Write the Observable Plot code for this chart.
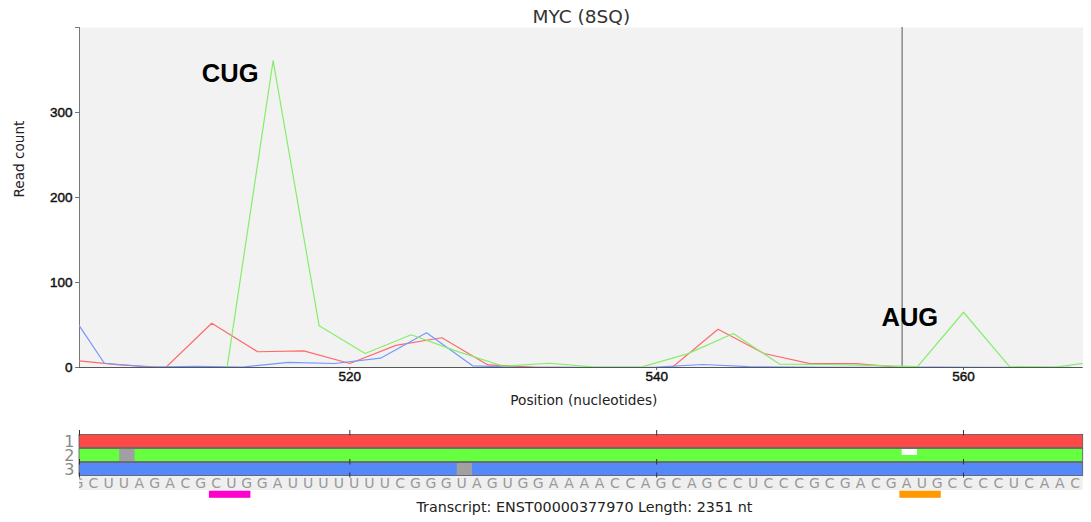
<!DOCTYPE html>
<html><head><meta charset="utf-8">
<script src="https://cdn.jsdelivr.net/npm/d3@7"></script>
<script src="https://cdn.jsdelivr.net/npm/@observablehq/plot@0.6"></script>
<style>
body{margin:0;background:#fff;}
#chart svg{display:block;}
#chart g[aria-label$="tick label"] text{stroke:#111;stroke-width:0.45px;}
</style></head><body><div id="chart"></div>
<script>
// ---- text ----
const title = "MYC (8SQ)";
const xLabel = "Position (nucleotides)";
const yLabel = "Read count";
const caption = "Transcript: ENST00000377970 Length: 2351 nt";

// ---- axes ----
const xWindow = [502.38, 567.8];
const xTicks = [520, 540, 560];
const yTicks = [0, 100, 200, 300, 400];
const yMax = 400;

// ---- read counts per frame ----
const frame1Pos   = [502, 505, 508, 511, 514, 517, 520, 523, 526, 529, 532, 535, 538, 541, 544, 547, 550, 553, 556, 559, 562, 565, 568];
const frame1Reads = [8.5, 3, 0, 52, 18.5, 19.5, 4.7, 26, 35, 3, 0.5, 0, 0, 0, 45, 16.5, 4.5, 4.5, 0, 0, 0, 0, 0];
const frame2Pos   = [503, 506, 509, 512, 515, 518, 521, 524, 527, 530, 533, 536, 539, 542, 545, 548, 551, 554, 557, 560, 563, 566, 569];
const frame2Reads = [0, 0, 0, 0, 361, 49, 16.5, 38.5, 19, 1.5, 5, 0.5, 0.5, 16, 40, 4, 3.5, 2.5, 1, 65, 1, 0.5, 8];
const frame3Pos   = [501, 504, 507, 510, 513, 516, 519, 522, 525, 528, 531, 534, 537, 540, 543, 546, 549, 552, 555, 558, 561, 564, 567];
const frame3Reads = [86, 5, 0.5, 1.5, 0.5, 6, 4.7, 11, 41, 2, 0.3, 0.3, 0.3, 0.5, 3.5, 1, 0.5, 0.3, 0.3, 0.5, 0.3, 0.3, 0.3];
const lineColors = ["#ff6a6a", "#84ee6c", "#7398ff"];

// ---- annotations ----
const augPos = 556;
const codonLabels = ["CUG", "AUG"];
const codonLabelX = [512.2, 556.5];
const codonLabelY = [346, 58];

// ---- track ----
const frames = ["1", "2", "3"];
const frameColors = ["#ff4848", "#66ff40", "#5588f8"];
const stopFrames = ["2", "3"];
const stopPos = [505, 527];
const startFrames = ["2"];
const startPos = [556];
const orfStarts = [511, 556];
const orfColors = ["#ff00cc", "#ff9900"];
const seqStart = 502;
const sequence = "GCUUAGACGCUGGAUUUUUUUCGGGUAGUGGAAAACCAGCAGCCUCCCGCGACGAUGCCCCUCAAC";

// ---- build tables ----
const mk = (pos, vals) => pos.map((p, i) => ({pos: p, reads: vals[i]}));
const s1 = mk(frame1Pos, frame1Reads);
const s2 = mk(frame2Pos, frame2Reads);
const s3 = mk(frame3Pos, frame3Reads);
const codons = codonLabels.map((t, i) => ({text: t, x: codonLabelX[i], y: codonLabelY[i]}));
const rows = frames.map((f, i) => ({frame: f, color: frameColors[i]}));
const stops = stopPos.map((p, i) => ({pos: p, frame: stopFrames[i]}));
const starts = startPos.map((p, i) => ({pos: p, frame: startFrames[i]}));
const orfs = orfStarts.map((p, i) => ({pos: p, color: orfColors[i]}));
const seq = Array.from(sequence, (b, i) => ({pos: seqStart + i, base: b}));
const trackTicks = [xWindow[0], ...xTicks];

const SANS = "Liberation Sans, Arial, Helvetica, sans-serif";
const HIRA = "DejaVu Sans, Verdana, sans-serif";

const main = Plot.plot({
  width: 1091, height: 415,
  marginTop: 27, marginBottom: 48, marginLeft: 79, marginRight: 8.3,
  style: {fontFamily: SANS, fontSize: "13.5px", color: "#111", background: "#fff"},
  x: {domain: xWindow},
  y: {domain: [0, yMax]},
  marks: [
    Plot.frame({fill: "#f2f2f2", stroke: null}),
    Plot.ruleX([augPos], {stroke: "#8a8a8a", strokeWidth: 1.5}),
    Plot.ruleY([0], {stroke: "#555"}),
    Plot.ruleX([xWindow[0]], {stroke: "#777"}),
    Plot.line(s1, {x: "pos", y: "reads", stroke: lineColors[0], strokeWidth: 1.2, clip: true}),
    Plot.line(s3, {x: "pos", y: "reads", stroke: lineColors[2], strokeWidth: 1.2, clip: true}),
    Plot.line(s2, {x: "pos", y: "reads", stroke: lineColors[1], strokeWidth: 1.2, clip: true}),
    Plot.axisY({ticks: yTicks, tickSize: 4, tickPadding: 3, label: null, stroke: "#777", fill: "#111",
      tickFormat: d => d === yMax ? "" : d}),
    Plot.axisX({ticks: xTicks, tickSize: 3, tickPadding: 1, label: null, stroke: "#555", fill: "#111"}),
    Plot.text(codons, {x: "x", y: "y", text: "text", fontWeight: "bold", fontSize: 25.5, fill: "#000", fontFamily: SANS}),
    Plot.text([title], {frameAnchor: "top", dy: -10, lineAnchor: "middle", fontSize: 18.5, fill: "#333", fontFamily: HIRA}),
    Plot.text([yLabel], {frameAnchor: "left", dx: -60, rotate: -90, fontSize: 13.6, fill: "#222", fontFamily: HIRA}),
    Plot.text([xLabel], {frameAnchor: "bottom", dy: 33, dx: 2.5, lineAnchor: "middle", fontSize: 13.7, fill: "#222", fontFamily: HIRA})
  ]
});

const track = Plot.plot({
  width: 1091, height: 107,
  marginTop: 18, marginBottom: 16.5, marginLeft: 79, marginRight: 8.3,
  style: {fontFamily: HIRA, background: "#fff"},
  color: {type: "identity"},
  x: {domain: xWindow, axis: null},
  y: {domain: [...frames, "seq", "orf"], padding: 0, axis: null},
  marks: [
    Plot.barX(seq, {x1: "pos", x2: d => d.pos + 1, y: () => "seq", fill: "#efefef", clip: true}),
    Plot.barX(rows, {x1: () => xWindow[0], x2: () => xWindow[1], y: "frame", fill: "color", stroke: "#555", strokeWidth: 0.8, insetTop: 0.5, insetBottom: 0.5}),
    Plot.barX(stops, {x1: "pos", x2: d => d.pos + 1, y: "frame", fill: "#a0a0a0", insetTop: 1, insetBottom: 1}),
    Plot.barX(starts, {x1: "pos", x2: d => d.pos + 1, y: "frame", fill: "#fff", insetTop: 1, insetBottom: 7}),
    Plot.tickX(trackTicks, {x: d => d, y: () => "1", insetBottom: 8.5, dy: -4, stroke: "#333"}),
    Plot.tickX(trackTicks, {x: d => d, y: () => "3", insetBottom: 8.5, dy: -3, stroke: "#333"}),
    Plot.tickX(trackTicks, {x: d => d, y: () => "seq", insetBottom: 9, dy: -3.5, stroke: "#333"}),
    Plot.text(seq, {x: "pos", y: () => "seq", text: "base", dx: 4.3, fill: "#999", fontSize: 14, fontFamily: HIRA, clip: true}),
    Plot.barX(orfs, {x1: d => d.pos - 0.15, x2: d => d.pos + 2.55, y: () => "orf", fill: "color", insetTop: 0.7, insetBottom: 6.2}),
    Plot.text(rows, {y: "frame", text: "frame", frameAnchor: "left", dx: -5, textAnchor: "end", fill: "#888", fontSize: 16, fontFamily: HIRA}),
    Plot.text([caption], {frameAnchor: "bottom", dy: 1.5, dx: 3, lineAnchor: "middle", fontSize: 14.3, fill: "#222", fontFamily: HIRA})
  ]
});

document.getElementById("chart").append(main, track);
</script></body></html>
